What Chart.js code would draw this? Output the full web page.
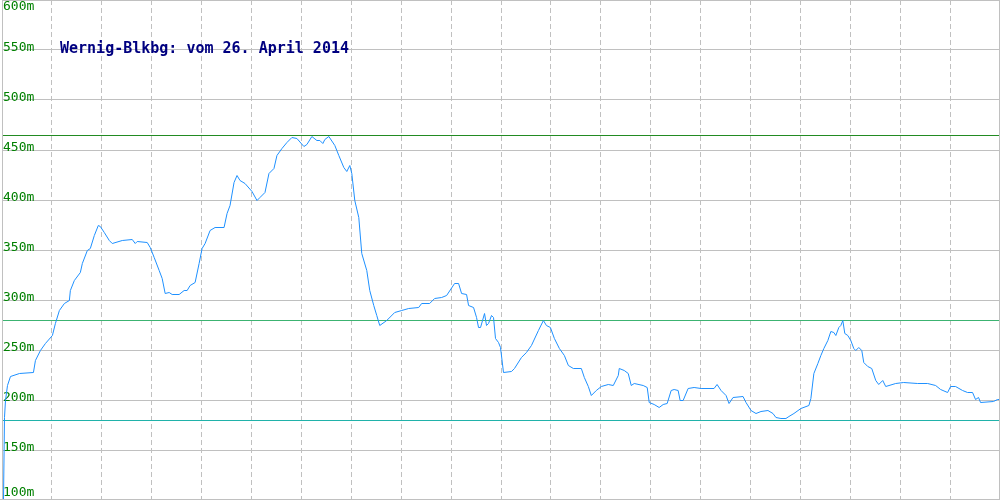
<!DOCTYPE html>
<html>
<head>
<meta charset="utf-8">
<script src="https://cdn.jsdelivr.net/npm/chart.js@4"></script>
<style>
  body { margin: 0; background: #fff; }
  #wrap { position: relative; width: 1000px; height: 500px; }
  #frame {
    position: absolute; left: 0; top: 0; width: 1000px; height: 500px;
    box-sizing: border-box; border-right: 1px solid #c0c0c0; border-bottom: 1px solid #c0c0c0;
    pointer-events: none;
  }
  #title {
    position: absolute; left: 60px; top: 41px;
    font: bold 15px "DejaVu Sans Mono", monospace; line-height: 15px;
    color: #000080; white-space: pre;
  }
</style>
</head>
<body>
<div id="wrap">
  <canvas id="chart" width="1000" height="500"></canvas>
  <div id="frame"></div>
  <div id="title">Wernig-Blkbg: vom 26. April 2014</div>
</div>
<script>
// distance along the route (chart units) and elevation in m
const dist = [1, 2, 3, 5, 8, 17, 31, 33, 38, 43, 50, 53, 57, 62, 67, 68, 72, 78, 80, 85,
  88, 92, 96, 98, 102, 107, 110, 120, 130, 133, 135, 145, 148, 152, 157, 160, 163, 167, 170, 177,
  182, 185, 188, 193, 197, 200, 203, 208, 213, 222, 225, 228, 232, 235, 238, 243, 250, 255, 258, 263,
  267, 272, 275, 280, 285, 290, 295, 302, 305, 310, 315, 318, 321, 323, 327, 333, 337, 342, 345, 348,
  350, 353, 357, 360, 365, 368, 372, 375, 378, 385, 393, 400, 407, 417, 420, 428, 433, 440, 445, 453,
  457, 460, 465, 467, 472, 475, 477, 479, 483, 485, 487, 490, 492, 494, 497, 499, 502, 510, 513, 520,
  525, 530, 537, 542, 545, 549, 553, 558, 563, 567, 572, 580, 583, 587, 590, 595, 600, 607, 612, 617,
  618, 623, 627, 630, 633, 642, 646, 648, 653, 658, 662, 666, 670, 673, 677, 679, 682, 687, 693, 700,
  713, 716, 720, 725, 728, 732, 742, 745, 750, 755, 760, 767, 772, 775, 780, 785, 788, 793, 800, 808,
  810, 813, 817, 820, 823, 827, 830, 833, 835, 838, 840, 842, 844, 847, 850, 853, 855, 858, 861, 863,
  867, 871, 875, 878, 882, 885, 895, 903, 917, 927, 935, 940, 947, 950, 955, 962, 967, 972, 975, 978,
  980, 993, 997, 1000];
const elev = [100, 183, 200, 215, 224, 227, 228, 240, 250, 257, 265, 277, 290, 297, 300, 310, 320, 328, 337, 350,
  352, 365, 375, 374, 368, 360, 357, 360, 361, 357, 359, 358, 353, 343, 330, 322, 307, 308, 306, 306,
  310, 310, 315, 318, 337, 352, 357, 370, 373, 373, 387, 395, 418, 425, 420, 417, 409, 400, 403, 408,
  427, 432, 445, 452, 458, 463, 462, 454, 456, 464, 460, 460, 457, 461, 464, 455, 445, 433, 429, 435,
  427, 400, 383, 347, 330, 310, 295, 285, 275, 280, 288, 290, 292, 293, 297, 297, 302, 303, 305, 317,
  317, 307, 306, 295, 293, 283, 273, 273, 287, 275, 277, 285, 283, 262, 258, 253, 228, 229, 232, 243,
  248, 255, 270, 280, 275, 273, 262, 252, 245, 235, 232, 232, 223, 214, 205, 210, 214, 216, 215, 225,
  232, 230, 227, 215, 217, 215, 213, 198, 196, 193, 196, 197, 210, 211, 210, 200, 200, 212, 213, 212,
  212, 216, 210, 205, 197, 203, 204, 198, 190, 187, 189, 190, 187, 183, 182, 182, 184, 187, 192, 195,
  202, 227, 237, 245, 252, 260, 269, 268, 265, 273, 275, 280, 267, 265, 260, 252, 250, 253, 250, 238,
  234, 232, 220, 216, 220, 214, 217, 218, 217, 217, 215, 211, 208, 214, 214, 210, 208, 208, 201, 203,
  198, 199, 201, 201];

// horizontal reference levels
const refLevels = [180, 280, 465];
const refColors = ["#20b2aa", "#3cb371", "#228b22"];

const yMin = 100;
const yMax = 600;

const points = dist.map((d, i) => ({ x: d, y: elev[i] }));

function tickLabel(value) {
  if (value === yMax) return ["", value + "m"];
  if (value === yMin) return [value + "m", ""];
  return value + "m";
}

function tickFont(ctx) {
  let lh = "13px";
  if (ctx.tick && ctx.tick.value === yMax) lh = "18px";
  if (ctx.tick && ctx.tick.value === yMin) lh = "10px";
  return { family: "'DejaVu Sans Mono', monospace", size: 13, lineHeight: lh };
}

function levelColor(ctx) {
  const i = ctx.tick ? refLevels.indexOf(ctx.tick.value) : -1;
  return i >= 0 ? refColors[i] : "rgba(0,0,0,0)";
}

// labels sit inside the plot, so the axis must not push the plot inwards
function noPad(axis) {
  axis.paddingTop = 0;
  axis.paddingBottom = 0;
  axis.paddingLeft = 0;
  axis.paddingRight = 0;
}

// half-pixel shift so the 1px profile line lands on whole pixels
const crispLine = {
  id: "crispLine",
  beforeDatasetsDraw(chart) { chart.ctx.save(); chart.ctx.translate(0.5, 0.5); },
  afterDatasetsDraw(chart) { chart.ctx.restore(); }
};

new Chart(document.getElementById("chart"), {
  type: "line",
  data: {
    datasets: [{
      data: points,
      borderColor: "#1e90ff",
      borderWidth: 1,
      pointRadius: 0,
      tension: 0,
      fill: false,
      clip: false
    }]
  },
  options: {
    responsive: false,
    animation: false,
    parsing: false,
    layout: { padding: 0, autoPadding: false },
    plugins: { legend: { display: false }, tooltip: { enabled: false } },
    scales: {
      x: {
        type: "linear",
        min: 0,
        max: 1000,
        afterFit: noPad,
        ticks: { display: false, stepSize: 50, maxTicksLimit: 30 },
        grid: { color: "#c0c0c0", drawTicks: false },
        border: { display: false, dash: [5, 3] }
      },
      y: {
        min: yMin,
        max: yMax,
        afterFit: noPad,
        ticks: {
          stepSize: 50,
          maxTicksLimit: 20,
          mirror: true,
          padding: 1,
          labelOffset: -2,
          color: "#008000",
          font: tickFont,
          callback: tickLabel
        },
        grid: { color: "#c0c0c0", drawTicks: false },
        border: { display: true, color: "#c0c0c0" }
      },
      levels: {
        axis: "y",
        position: "left",
        min: yMin,
        max: yMax,
        afterBuildTicks: axis => { axis.ticks = refLevels.map(v => ({ value: v })); },
        afterFit: noPad,
        ticks: { display: false },
        grid: { color: levelColor, lineWidth: 1, drawTicks: false },
        border: { display: false }
      }
    }
  },
  plugins: [crispLine]
});
</script>
</body>
</html>
